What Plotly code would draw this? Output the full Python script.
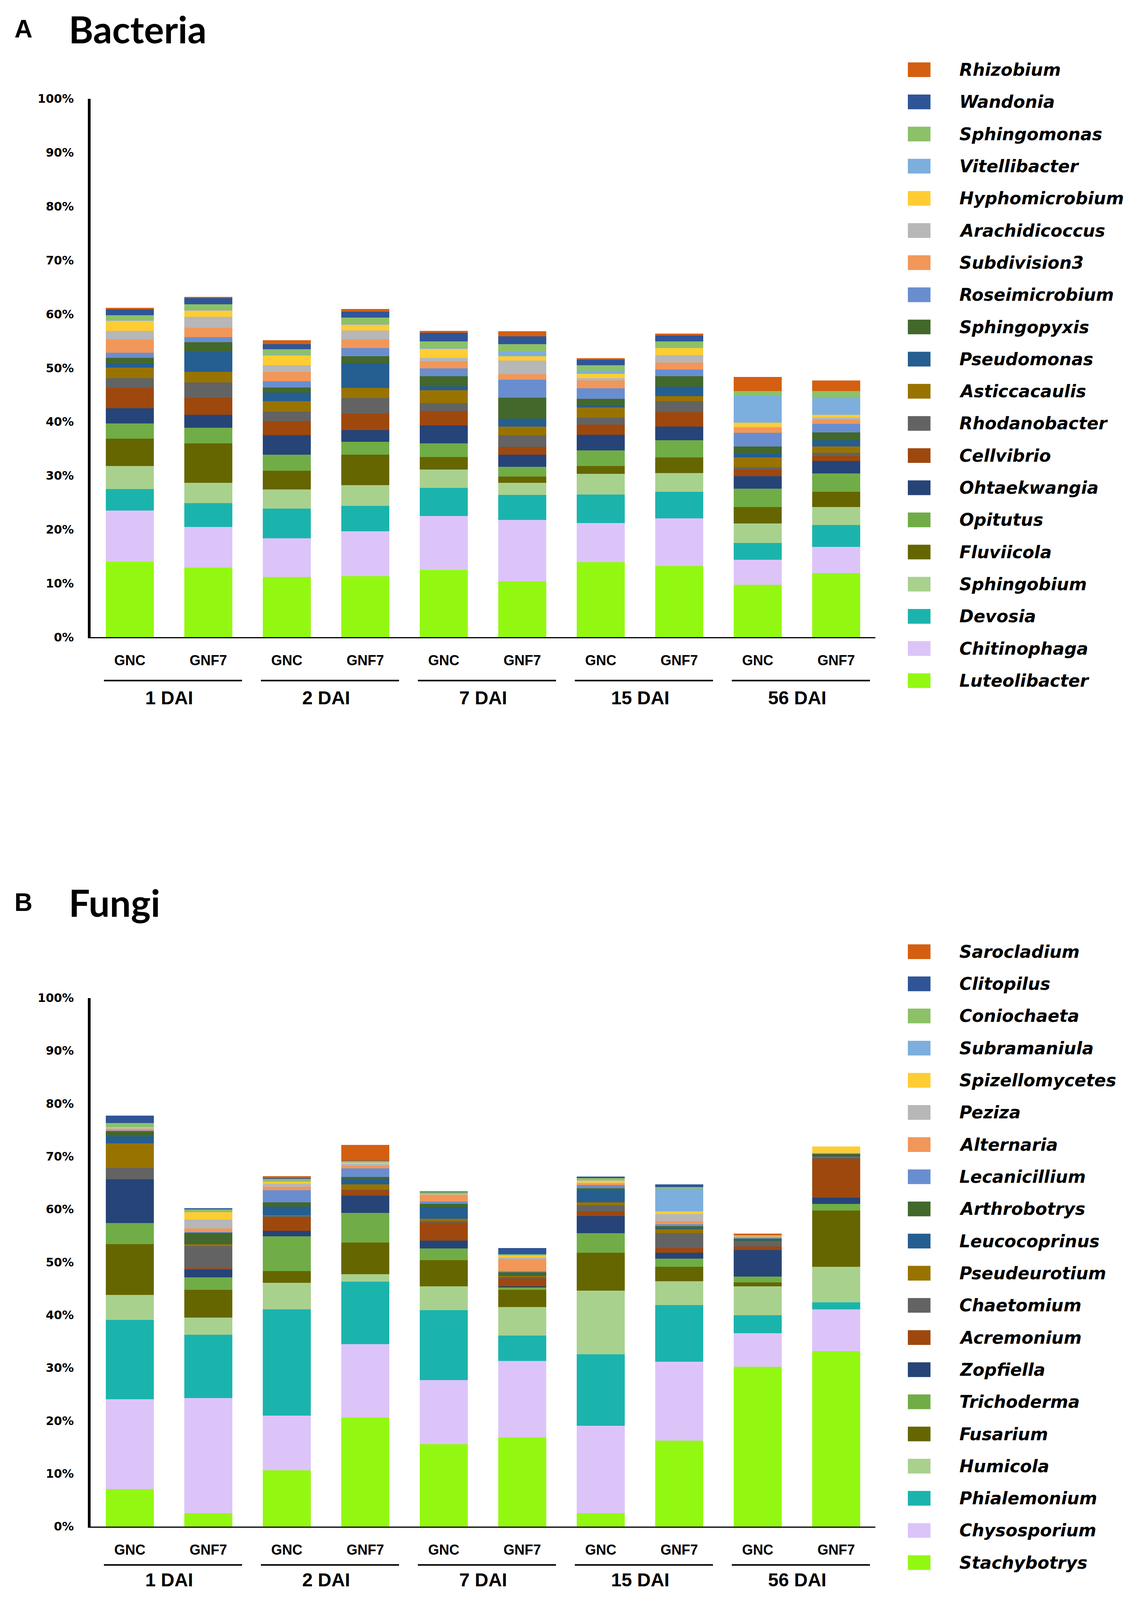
import plotly.graph_objects as go

W, H = 2917, 4529

samples = ["GNC", "GNF7", "GNC", "GNF7", "GNC", "GNF7", "GNC", "GNF7", "GNC", "GNF7"]
days = ["1 DAI", "2 DAI", "7 DAI", "15 DAI", "56 DAI"]
y_ticks = [0, 10, 20, 30, 40, 50, 60, 70, 80, 90, 100]

# bacteria, bottom of the stack first (relative abundance, %)
bac_taxa = ["Luteolibacter", "Chitinophaga", "Devosia", "Sphingobium", "Fluviicola",
            "Opitutus", "Ohtaekwangia", "Cellvibrio", "Rhodanobacter", "Asticcacaulis",
            "Pseudomonas", "Sphingopyxis", "Roseimicrobium", "Subdivision3", "Arachidicoccus",
            "Hyphomicrobium", "Vitellibacter", "Sphingomonas", "Wandonia", "Rhizobium"]
luteolibacter = [14.0, 12.9, 11.2, 11.3, 12.5, 10.4, 13.95, 13.2, 9.75, 11.9]
chitinophaga = [9.5, 7.6, 7.15, 8.4, 10.0, 11.4, 7.25, 8.85, 4.65, 4.85]
devosia = [4.0, 4.4, 5.55, 4.7, 5.2, 4.6, 5.3, 4.95, 3.1, 4.05]
sphingobium = [4.3, 3.8, 3.5, 3.8, 3.45, 2.3, 3.85, 3.45, 3.6, 3.4]
fluviicola = [5.1, 7.3, 3.5, 5.7, 2.3, 1.15, 1.45, 2.9, 3.1, 2.8]
opitutus = [2.8, 2.9, 3.0, 2.4, 2.55, 1.8, 2.9, 3.25, 3.4, 3.4]
ohtaekwangia = [2.8, 2.4, 3.6, 2.15, 3.3, 2.25, 2.9, 2.5, 2.3, 2.35]
cellvibrio = [3.8, 3.2, 2.6, 3.05, 2.7, 1.45, 1.85, 2.7, 1.2, 0.95]
rhodanobacter = [1.8, 2.8, 1.75, 2.9, 1.5, 2.15, 1.35, 2.0, 0.5, 0.55]
asticcacaulis = [2.0, 2.0, 1.95, 1.9, 2.4, 1.6, 1.85, 1.0, 1.75, 1.15]
pseudomonas = [0.7, 3.8, 1.6, 4.6, 0.7, 1.45, 0.45, 1.75, 0.7, 1.2]
sphingopyxis = [1.1, 1.7, 1.0, 1.3, 1.9, 3.95, 1.2, 1.95, 1.35, 1.4]
roseimicrobium = [0.9, 0.9, 1.1, 1.5, 1.4, 3.3, 1.95, 1.2, 2.55, 1.6]
subdivision3 = [2.5, 1.8, 1.8, 1.6, 1.3, 1.05, 1.4, 1.3, 1.0, 0.8]
arachidicoccus = [1.6, 2.0, 1.2, 1.7, 0.7, 2.55, 0.5, 1.4, 0.1, 0.4]
hyphomicrobium = [1.9, 1.2, 1.8, 1.1, 1.7, 0.8, 0.75, 1.3, 0.8, 0.5]
vitellibacter = [0.1, 0.1, 0.15, 0.1, 0.1, 0.85, 0.6, 0.0, 5.1, 3.15]
sphingomonas = [0.9, 1.0, 1.05, 1.15, 1.2, 1.35, 1.0, 1.2, 0.8, 1.3]
wandonia = [1.1, 1.2, 0.9, 1.1, 1.6, 1.45, 1.0, 1.1, 0.0, 0.0]
rhizobium = [0.3, 0.2, 0.75, 0.5, 0.4, 0.95, 0.3, 0.4, 2.6, 1.9]
bac_values = [luteolibacter, chitinophaga, devosia, sphingobium, fluviicola, opitutus,
              ohtaekwangia, cellvibrio, rhodanobacter, asticcacaulis, pseudomonas,
              sphingopyxis, roseimicrobium, subdivision3, arachidicoccus, hyphomicrobium,
              vitellibacter, sphingomonas, wandonia, rhizobium]

# fungi, bottom of the stack first
fun_taxa = ["Stachybotrys", "Chysosporium", "Phialemonium", "Humicola", "Fusarium",
            "Trichoderma", "Zopfiella", "Acremonium", "Chaetomium", "Pseudeurotium",
            "Leucocoprinus", "Arthrobotrys", "Lecanicillium", "Alternaria", "Peziza",
            "Spizellomycetes", "Subramaniula", "Coniochaeta", "Clitopilus", "Sarocladium"]
stachybotrys = [7.1, 2.5, 10.6, 20.6, 15.6, 16.8, 2.5, 16.25, 30.2, 33.15]
chysosporium = [17.0, 21.8, 10.4, 13.9, 12.1, 14.5, 16.55, 14.95, 6.4, 7.95]
phialemonium = [15.0, 12.0, 20.1, 11.8, 13.25, 4.8, 13.55, 10.65, 3.4, 1.3]
humicola = [4.7, 3.2, 5.0, 1.4, 4.5, 5.4, 12.05, 4.55, 5.45, 6.7]
fusarium = [9.6, 5.3, 2.2, 6.0, 4.95, 3.3, 7.15, 2.7, 0.75, 10.65]
trichoderma = [4.0, 2.3, 6.6, 5.6, 2.2, 0.5, 3.7, 1.6, 1.05, 1.25]
zopfiella = [8.3, 1.6, 1.0, 3.3, 1.5, 0.1, 3.25, 1.1, 5.05, 1.2]
acremonium = [0.0, 0.1, 2.6, 1.05, 3.4, 1.5, 0.85, 0.9, 0.7, 7.4]
chaetomium = [2.1, 4.25, 0.3, 0.1, 0.3, 0.3, 1.15, 2.8, 0.9, 0.3]
pseudeurotium = [4.65, 0.45, 0.1, 0.95, 0.4, 0.3, 0.55, 0.8, 0.1, 0.05]
leucocoprinus = [1.35, 0.1, 1.6, 1.05, 2.2, 0.1, 2.35, 0.1, 0.1, 0.35]
arthrobotrys = [1.0, 2.0, 0.8, 0.4, 0.6, 0.5, 0.35, 0.4, 0.4, 0.25]
lecanicillium = [0.1, 0.1, 2.35, 1.6, 0.5, 0.2, 0.6, 0.4, 0.1, 0.05]
alternaria = [0.4, 0.65, 0.65, 0.5, 1.3, 2.3, 0.3, 0.6, 0.3, 0.05]
peziza = [0.1, 1.75, 0.6, 0.4, 0.05, 0.3, 0.1, 1.3, 0.05, 0.05]
spizellomycetes = [0.1, 1.45, 0.4, 0.3, 0.05, 0.4, 0.5, 0.5, 0.05, 1.2]
subramaniula = [0.0, 0.1, 0.1, 0.05, 0.05, 0.1, 0.1, 4.3, 0.05, 0.0]
coniochaeta = [0.8, 0.35, 0.4, 0.2, 0.3, 0.1, 0.3, 0.3, 0.05, 0.0]
clitopilus = [1.4, 0.2, 0.1, 0.05, 0.15, 1.2, 0.3, 0.5, 0.0, 0.0]
sarocladium = [0.0, 0.0, 0.4, 2.9, 0.0, 0.0, 0.0, 0.0, 0.3, 0.0]
fun_values = [stachybotrys, chysosporium, phialemonium, humicola, fusarium, trichoderma,
              zopfiella, acremonium, chaetomium, pseudeurotium, leucocoprinus, arthrobotrys,
              lecanicillium, alternaria, peziza, spizellomycetes, subramaniula, coniochaeta,
              clitopilus, sarocladium]

colors = ["#93F811", "#DCC4F9", "#1BB4AD", "#A9D18E", "#666600",
          "#70AD47", "#264478", "#9E480E", "#636363", "#997300",
          "#255E91", "#43682B", "#698ED0", "#F1975A", "#B7B7B7",
          "#FFCD33", "#7CAFDD", "#8CC168", "#2F5597", "#D55F10"]


# positions are worked out on the 2917x4529 reference, then turned into paper fractions
def px(x):
    return x / W


def py(y):
    return 1 - y / H


x_pos = list(range(len(samples)))

fig = go.Figure()

# (taxa, values, x axis, y axis, letter, title, title y, 0% y, 100% y, first legend row y)
panels = [
    (bac_taxa, bac_values, "x", "y", "A", "Bacteria", 62, 1799, 262, 179),
    (fun_taxa, fun_values, "x2", "y2", "B", "Fungi", 2556, 4338, 2829, 2697),
]

shapes = []
annotations = []

for taxa, values, xa, ya, letter, title, ty, y0px, y100px, leg_y in panels:
    for i, name in enumerate(taxa):
        fig.add_trace(go.Bar(
            x=x_pos, y=values[i], name=name, xaxis=xa, yaxis=ya,
            marker=dict(color=colors[i], line=dict(width=0)),
            showlegend=False,
        ))

    # panel heading
    annotations.append(dict(text="<b>" + letter + "</b>", x=px(35), y=py(ty), xref="paper", yref="paper",
                            xanchor="left", yanchor="middle", showarrow=False,
                            font=dict(family="Liberation Sans", size=64, color="black")))
    annotations.append(dict(text="<b>" + title + "</b>", x=px(174), y=py(ty), xref="paper", yref="paper",
                            xanchor="left", yanchor="middle", showarrow=False,
                            font=dict(family="Lato", size=96, color="black")))

    # day groups under the sample labels
    off_line = 124 if ya == "y" else 110
    off_lab = 173 if ya == "y" else 153
    for j, d in enumerate(days):
        shapes.append(dict(type="line", xref=xa, yref="paper",
                           x0=2 * j - 0.33, x1=2 * j + 1.43,
                           y0=py(y0px + off_line), y1=py(y0px + off_line),
                           line=dict(color="black", width=4)))
        annotations.append(dict(text="<b>" + d + "</b>", xref=xa, yref="paper",
                                x=2 * j + 0.5, y=py(y0px + off_lab),
                                xanchor="center", yanchor="middle", showarrow=False,
                                font=dict(family="Liberation Sans", size=48, color="black")))

    # legend, top entry is the top of the stack
    for k, i in enumerate(range(len(taxa) - 1, -1, -1)):
        yc = leg_y + k * 91.8
        shapes.append(dict(type="rect", xref="paper", yref="paper",
                           x0=px(2325), x1=px(2383), y0=py(yc - 21), y1=py(yc + 21),
                           fillcolor=colors[i], line=dict(width=0)))
        annotations.append(dict(text="<b><i>" + taxa[i] + "</i></b>", xref="paper", yref="paper",
                                x=px(2455), y=py(yc), xanchor="left", yanchor="middle",
                                showarrow=False,
                                font=dict(family="DejaVu Sans", size=44, color="black")))

xdom = [px(232), px(2242)]
xaxis_style = dict(
    domain=xdom, range=[-0.5, 9.5], tickmode="array", tickvals=x_pos, ticktext=samples,
    showline=True, linecolor="black", linewidth=3, showgrid=False, zeroline=False,
    ticks="", ticklabelstandoff=26,
    tickfont=dict(family="Liberation Sans", size=36, color="black", weight="bold"),
)
yaxis_style = dict(
    range=[0, 100], tickmode="array", tickvals=y_ticks,
    ticktext=[str(v) + "%" for v in y_ticks],
    showline=True, linecolor="black", linewidth=7, showgrid=False, zeroline=False,
    ticks="", ticklabelstandoff=30,
    tickfont=dict(family="DejaVu Sans", size=30, color="black", weight="bold"),
)

fig.update_layout(
    autosize=True,
    margin=dict(l=0, r=0, t=0, b=0),
    paper_bgcolor="white", plot_bgcolor="white",
    barmode="stack", bargap=0.39,
    showlegend=False,
    xaxis=dict(anchor="y", **xaxis_style),
    yaxis=dict(anchor="x", domain=[py(1799), py(262)], **yaxis_style),
    xaxis2=dict(anchor="y2", **xaxis_style),
    yaxis2=dict(anchor="x2", domain=[py(4338), py(2829)], **yaxis_style),
    shapes=shapes,
    annotations=annotations,
)

# the figure fills the browser window, so nothing drops below the visible page
fit_js = (
    "document.body.style.margin='0';"
    "document.body.style.overflow='hidden';"
    "var gd=document.getElementById('{plot_id}');"
    "gd.style.width='100vw';gd.style.height='100vh';"
    "Plotly.Plots.resize(gd);"
)

fig.write_html("out.html", default_width="100vw", default_height="100vh",
               config={"responsive": True, "displayModeBar": False}, post_script=fit_js)
